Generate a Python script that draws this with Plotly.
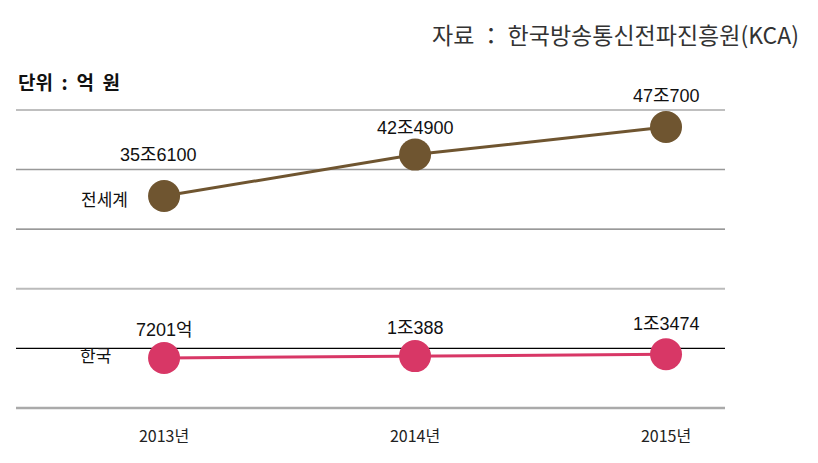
import plotly.graph_objects as go

years = [2013, 2014, 2015]
year_labels = ["2013년", "2014년", "2015년"]
world = [356100, 424900, 470700]          # 억 원
korea = [7201, 10388, 13474]              # 억 원
world_text = ["35조6100", "42조4900", "47조700"]
korea_text = ["7201억", "1조388", "1조3474"]

BROWN = "#6f5530"
PINK = "#d83766"
LBL_FONT = "Liberation Sans, Noto Sans CJK KR, sans-serif"

fig = go.Figure()
fig.add_trace(go.Scatter(x=years, y=world, mode="lines+markers", yaxis="y",
                         line=dict(color=BROWN, width=3),
                         marker=dict(size=32, color=BROWN), hoverinfo="skip"))
fig.add_trace(go.Scatter(x=years, y=korea, mode="lines+markers", yaxis="y2",
                         line=dict(color=PINK, width=3),
                         marker=dict(size=32, color=PINK), hoverinfo="skip"))

world_shift = [41, 27, 31]
korea_shift = [28, 28, 30]
world_xshift = [-6, 0, 0]
ann = []
for x, y, t, s, xs in zip(years, world, world_text, world_shift, world_xshift):
    ann.append(dict(x=x, y=y, xref="x", yref="y", text=t, showarrow=False,
                    yshift=s, xshift=xs, font=dict(size=18, color="#111", family=LBL_FONT)))
for x, y, t, s in zip(years, korea, korea_text, korea_shift):
    ann.append(dict(x=x, y=y, xref="x", yref="y2", text=t, showarrow=False,
                    yshift=s, font=dict(size=18, color="#111", family=LBL_FONT)))
ann.append(dict(x=years[0], y=world[0], xref="x", yref="y", text="전세계", showarrow=False,
                xanchor="right", xshift=-34, yshift=-2,
                font=dict(size=17, color="#111", family="Noto Sans CJK KR")))
ann.append(dict(x=years[0], y=korea[0], xref="x", yref="y2", text="한국", showarrow=False,
                xanchor="right", xshift=-51, yshift=4,
                font=dict(size=17, color="#111", family="Noto Sans CJK KR")))
ann.append(dict(x=0, xanchor="left", y=1, yanchor="bottom", yshift=13,
                xref="paper", yref="paper",
                text="<b>단위\u00a0\u00a0:\u00a0\u00a0억\u00a0\u00a0원</b>", showarrow=False,
                font=dict(size=19, color="#111", family="Noto Sans CJK KR")))
ann.append(dict(x=1.107, y=1, xref="paper", yref="paper", xanchor="right", yanchor="bottom",
                yshift=57, text="자료 ： 한국방송통신전파진흥원(KCA)", showarrow=False,
                font=dict(size=23, color="#333", family="Noto Sans CJK KR")))

# horizontal guide rules, bottom to top
grid_colors = ["#aaaaaa", "#000000", "#bbbbbb", "#777777", "#999999", "#aaaaaa"]
grid_widths = [2.5, 1.2, 2, 1.2, 1.5, 1.5]
shapes = []
for i, (c, w) in enumerate(zip(grid_colors, grid_widths)):
    yy = i / 5
    shapes.append(dict(type="line", xref="paper", yref="paper", x0=0, x1=1, y0=yy, y1=yy,
                       line=dict(color=c, width=w), layer="below"))

fig.update_layout(
    width=818, height=463,
    margin=dict(l=8, r=101, t=102, b=63),
    paper_bgcolor="white", plot_bgcolor="white",
    showlegend=False,
    xaxis=dict(range=[2012.41, 2015.235], tickvals=years, ticktext=year_labels,
               showgrid=False, zeroline=False, showline=False,
               ticks="outside", ticklen=14, tickcolor="rgba(0,0,0,0)",
               tickfont=dict(size=16, color="#222", family="Liberation Sans Narrow, Noto Sans CJK KR")),
    yaxis=dict(range=[3900, 499000], visible=False, showgrid=False, zeroline=False),
    yaxis2=dict(range=[-75870, 419230], overlaying="y", visible=False, showgrid=False, zeroline=False),
    annotations=ann, shapes=shapes,
)
fig.write_html("out.html")
